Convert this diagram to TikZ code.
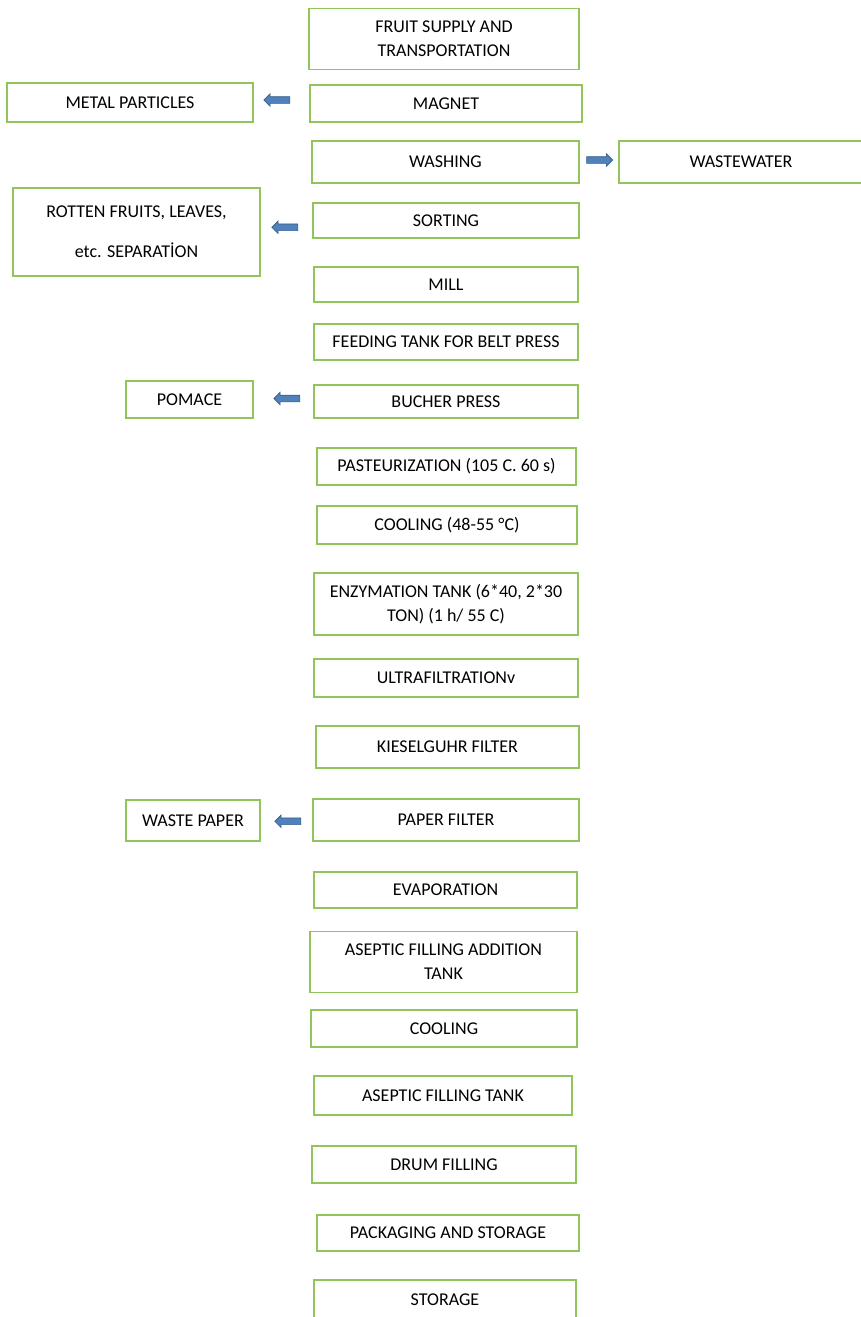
\documentclass[tikz,border=0pt]{standalone}
\usepackage{fontspec}
\setmainfont{Carlito}
\usepackage{xcolor}
\usepackage{tikz}
\usetikzlibrary{calc,shapes.arrows}
\definecolor{boxgreen}{RGB}{146,196,92}
\definecolor{arrowblue}{RGB}{79,129,189}
\definecolor{arrowline}{RGB}{56,93,138}
\begin{document}
\begin{tikzpicture}[x=1pt,y=-1pt,
    box/.style={draw=boxgreen, line width=1.6pt, align=center, inner sep=0pt,
      font=\fontsize{18}{24}\selectfont},
    larrow/.style={single arrow, draw=arrowline, line width=0.6pt, fill=arrowblue,
      minimum height=26pt, inner xsep=0pt, inner ysep=3pt, single arrow head extend=3pt,
      shape border rotate=180},
    rarrow/.style={larrow, shape border rotate=0}]
    \useasboundingbox (0,0) rectangle (861,1317);
    \node [box, minimum width=270, minimum height=61] (fruit) at (444,39) {FRUIT SUPPLY AND\\TRANSPORTATION};
    \node [box, minimum width=272, minimum height=37] (magnet) at (446,103.5) {MAGNET};
    \node [box, minimum width=246, minimum height=39] (metal) at (130,102.5) {METAL PARTICLES};
    \node [box, minimum width=267, minimum height=42] (washing) at (445.5,162) {WASHING};
    \node [box, minimum width=244, minimum height=42] (wastewater) at (741,162) {WASTEWATER};
    \node [box, minimum width=266, minimum height=35] (sorting) at (446,220.5) {SORTING};
    \node [box, minimum width=247, minimum height=88] (rotten) at (136.5,232) {ROTTEN FRUITS, LEAVES,\\[16pt]etc. SEPARATİON};
    \node [box, minimum width=264, minimum height=35] (mill) at (446,284.5) {MILL};
    \node [box, minimum width=264, minimum height=36] (feeding) at (446,342) {FEEDING TANK FOR BELT PRESS};
    \node [box, minimum width=264, minimum height=33] (bucher) at (446,401.5) {BUCHER PRESS};
    \node [box, minimum width=127, minimum height=37] (pomace) at (189.5,399.5) {POMACE};
    \node [box, minimum width=259, minimum height=37] (pasteur) at (446.5,466.5) {PASTEURIZATION (105 C. 60 s)};
    \node [box, minimum width=260, minimum height=38] (coolingA) at (447,525) {COOLING (48-55 °C)};
    \node [box, minimum width=264, minimum height=62] (enzym) at (446,604) {ENZYMATION TANK (6*40, 2*30\\TON) (1 h/ 55 C)};
    \node [box, minimum width=264, minimum height=38] (ultra) at (446,678) {ULTRAFILTRATIONv};
    \node [box, minimum width=263, minimum height=42] (kiesel) at (447.5,747) {KIESELGUHR FILTER};
    \node [box, minimum width=266, minimum height=42] (paper) at (446,820) {PAPER FILTER};
    \node [box, minimum width=134, minimum height=41] (wastepaper) at (193,820.5) {WASTE PAPER};
    \node [box, minimum width=263, minimum height=36] (evap) at (445.5,890) {EVAPORATION};
    \node [box, minimum width=267, minimum height=61] (asepticadd) at (443.5,962) {ASEPTIC FILLING ADDITION\\TANK};
    \node [box, minimum width=266, minimum height=37] (coolingB) at (444,1028.5) {COOLING};
    \node [box, minimum width=258, minimum height=39] (aseptictank) at (443,1095.5) {ASEPTIC FILLING TANK};
    \node [box, minimum width=264, minimum height=37] (drum) at (444,1164.5) {DRUM FILLING};
    \node [box, minimum width=262, minimum height=36] (packaging) at (448,1233) {PACKAGING AND STORAGE};
    \node [box, minimum width=262, minimum height=40] (storage) at (445,1300) {STORAGE};
    \node [larrow] (toMetal) at ($(metal.east)!0.5!(magnet.west)+(-3,-3)$) {};
    \node [rarrow] (toWastewater) at ($(washing.east)!0.5!(wastewater.west)+(-1,-2)$) {};
    \node [larrow] (toRotten) at ($(rotten.east)!0.5!(sorting.west)+(0,1)$) {};
    \node [larrow] (toPomace) at ($(pomace.east)!0.5!(bucher.west)+(5,-2)$) {};
    \node [larrow] (toWastepaper) at ($(wastepaper.east)!0.5!(paper.west)+(3,1)$) {};
\end{tikzpicture}
\end{document}
